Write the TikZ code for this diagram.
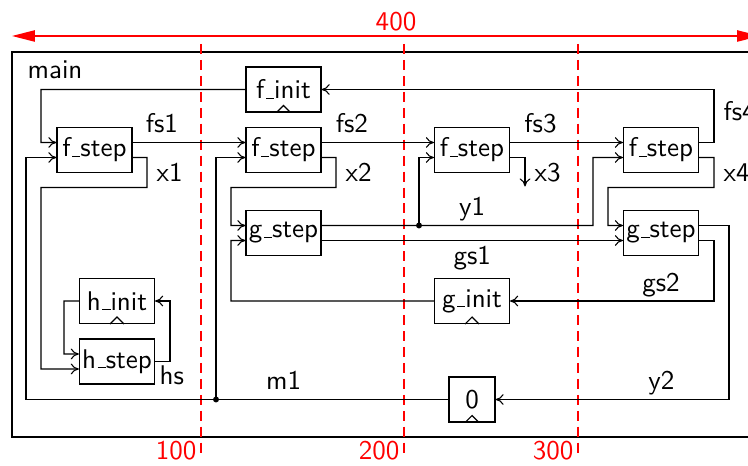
\documentclass[tikz,border=0pt]{standalone}
\usepackage{tikz}
\usetikzlibrary{
  arrows.meta,
  calc
}
\definecolor{RulerRed}{HTML}{FF0000}
% short underscore, as in the old text fonts
\newcommand{\usc}{\leavevmode\kern.06em\vbox{\hrule width.3em}}
\tikzset{
  % Block: fixed size box
  blk/.style={
    rectangle, draw,
    minimum width=27.75pt, minimum height=16.65pt,
    inner sep=1pt, font=\sffamily
  },
  % Arrow
  arr/.style={-{To[length=3pt,width=4pt]}},
  % Wire label
  lbl/.style={font=\sffamily, text depth=0pt},
  % Junction dot
  dot/.style={circle, fill, inner sep=0pt, minimum size=2.2pt},
  % Ruler line
  rul/.style={RulerRed, dash pattern=on 3.7pt off 2.2pt},
  % Ruler label
  rlbl/.style={font=\sffamily, text=RulerRed, anchor=east, inner sep=1.5pt}
}

\begin{document}
\begin{tikzpicture}[x=0.37pt, y=-0.37pt]
  \useasboundingbox (0,0) rectangle (748,466);

  % frame and ruler
  \draw (12,52) rectangle (770,437);
  \node[lbl, anchor=north west, inner sep=0pt] (tmain) at (27,60) {main};
  \coordinate (r0) at (12,36);
  \coordinate (r1) at (760,36);
  \draw[RulerRed, line width=0.5pt,
    {Triangle[length=8.5pt,width=4.2pt]}-{Triangle[length=8.5pt,width=4.2pt]}] (r0) -- (r1);
  \node[lbl, text=RulerRed] (t400) at (396,21) {400};
  \foreach \x/\t in {201/100,404/200,578/300} {
    \draw[rul] (\x,44) -- (\x,456);
    \node[rlbl] (t\t) at (\x,451) {\t};
  }

  % blocks
  \node[blk] (fi) at (283.5,89.5) {f\usc init};
  \node[blk] (f1) at (94.5,150)   {f\usc step};
  \node[blk] (f2) at (283.5,150)  {f\usc step};
  \node[blk] (f3) at (472,150)    {f\usc step};
  \node[blk] (f4) at (661,150)    {f\usc step};
  \node[blk] (g1) at (283.5,233)  {g\usc step};
  \node[blk] (g2) at (661,233)    {g\usc step};
  \node[blk] (gi) at (472,301)    {g\usc init};
  \node[blk] (hi) at (117,301)    {h\usc init};
  \node[blk] (hs) at (117,361.5)  {h\usc step};
  \node[blk, minimum width=17pt] (z) at (472,399.5) {0};

  % clock marks
  \foreach \n in {fi,gi,hi,z}
    \draw ([xshift=-2.6pt]\n.south) -- ([yshift=2.6pt]\n.south) -- ([xshift=2.6pt]\n.south);

  % ports
  \foreach \n in {f1,f2,f3,f4,g1,g2,hs} {
    \coordinate (\n-i1) at ([yshift=2.775pt]\n.west);
    \coordinate (\n-i2) at ([yshift=-2.775pt]\n.west);
    \coordinate (\n-o1) at ([yshift=2.775pt]\n.east);
    \coordinate (\n-o2) at ([yshift=-2.775pt]\n.east);
  }

  % f chain
  \draw[arr] (fi.west) -| (41,142.5) -- (f1-i1);
  \draw[arr] (f1-o1) -- node[lbl, above, pos=0.26] (lfs1) {fs1} (f2-i1);
  \draw[arr] (f2-o1) -- node[lbl, above, pos=0.27] (lfs2) {fs2} (f3-i1);
  \draw[arr] (f3-o1) -- node[lbl, above, pos=0.27] (lfs3) {fs3} (f4-i1);
  \draw[arr] (f4-o1) -| node[lbl, right, pos=0.8] (lfs4) {fs4} (714,89.5) -- (fi.east);

  % x outputs
  \draw[arr] (f1-o2) -| node[lbl, right, pos=0.75] (lx1) {x1} (147,187.5) -| (41,369) -- (hs-i2);
  \draw[arr] (f2-o2) -| node[lbl, right, pos=0.75] (lx2) {x2} (336,187.5) -| (231,225.5) -- (g1-i1);
  \draw[arr] (f3-o2) -| node[lbl, right, pos=0.75] (lx3) {x3} (525,186.5);
  \draw[arr] (f4-o2) -| node[lbl, right, pos=0.75] (lx4) {x4} (714,187.5) -| (608,225.5) -- (g2-i1);

  % h loop
  \draw[arr] (hi.west) -| (64,354) -- (hs-i1);
  \draw[arr] (hs.east) node[lbl, below right, inner sep=1.5pt] (lhs) {hs} -| (170,301) -- (hi.east);

  % g loop
  \draw[arr] (gi.west) -| (231,240.5) -- (g1-i2);
  \draw[arr] (g1-o1) -- node[lbl, above, pos=0.555] (ly1) {y1} (593,225.5) |- (f4-i2);
  \draw[arr] (g1-o2) -- node[lbl, below, yshift=1.5pt] (lgs1) {gs1} (g2-i2);
  \draw[arr] (g2-o2) -| (714,301) -- node[lbl, above, pos=0.26] (lgs2) {gs2} (gi.east);
  \draw[arr] (g2-o1) -| (729,399.5) -- node[lbl, above, pos=0.29] (ly2) {y2} (z.east);

  % m1 feedback
  \draw[arr] (z.west) -- node[lbl, above, pos=0.39] (lm1) {m1} (26,399.5) |- (f1-i2);
  \node[dot] (j1) at (216,399.5) {};
  \draw[arr] (j1.center) |- (f2-i2);
  \node[dot] (j2) at (419,225.5) {};
  \draw[arr] (j2.center) |- (f3-i2);
\end{tikzpicture}
\end{document}
